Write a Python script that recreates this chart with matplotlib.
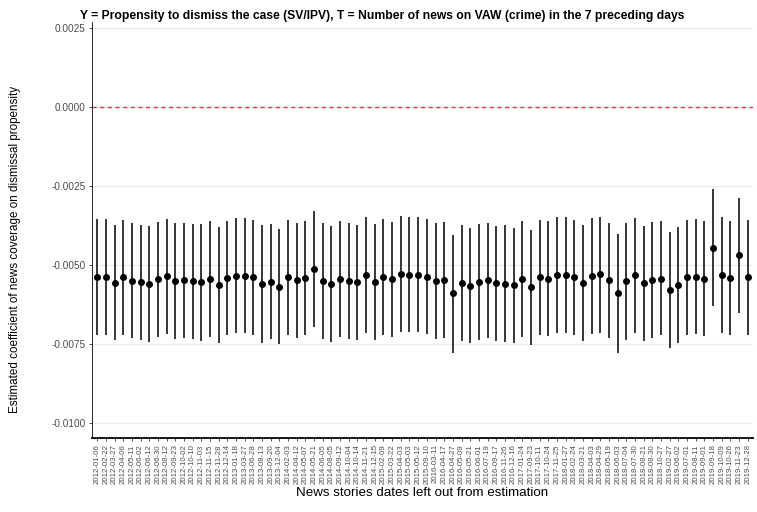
import numpy as np
import matplotlib
matplotlib.use("Agg")
import matplotlib.pyplot as plt

dates = [
    "2012-01-06", "2012-02-22", "2012-03-27", "2012-04-06", "2012-05-11", "2012-06-02",
    "2012-06-12", "2012-06-30", "2012-08-12", "2012-09-23", "2012-10-02", "2012-10-10",
    "2012-11-03", "2012-11-15", "2012-11-28", "2012-12-14", "2013-01-18", "2013-03-27",
    "2013-06-28", "2013-08-13", "2013-09-20", "2013-12-04", "2014-02-03", "2014-04-12",
    "2014-05-07", "2014-05-21", "2014-06-05", "2014-08-05", "2014-09-12", "2014-10-04",
    "2014-10-14", "2014-11-21", "2014-12-15", "2015-02-09", "2015-03-22", "2015-04-03",
    "2015-05-03", "2015-05-12", "2015-09-10", "2016-03-11", "2016-04-17", "2016-04-27",
    "2016-05-09", "2016-05-21", "2016-06-01", "2016-07-19", "2016-09-17", "2016-11-26",
    "2016-12-16", "2017-01-24", "2017-09-23", "2017-10-11", "2017-10-24", "2017-11-25",
    "2018-01-27", "2018-02-24", "2018-03-21", "2018-04-03", "2018-04-29", "2018-05-19",
    "2018-06-03", "2018-07-04", "2018-07-30", "2018-08-21", "2018-08-30", "2018-10-27",
    "2019-02-27", "2019-06-02", "2019-07-01", "2019-08-11", "2019-09-01", "2019-09-18",
    "2019-10-09", "2019-10-26", "2019-11-23", "2019-12-28",
]

estimate = [
    -0.00538, -0.00538, -0.00556, -0.00539, -0.00551, -0.00555, -0.00560, -0.00545,
    -0.00535, -0.00551, -0.00549, -0.00552, -0.00555, -0.00544, -0.00563, -0.00541,
    -0.00534, -0.00534, -0.00539, -0.00560, -0.00554, -0.00569, -0.00539, -0.00549,
    -0.00541, -0.00513, -0.00550, -0.00561, -0.00545, -0.00550, -0.00555, -0.00531,
    -0.00553, -0.00537, -0.00545, -0.00529, -0.00531, -0.00531, -0.00537, -0.00551,
    -0.00547, -0.00590, -0.00557, -0.00565, -0.00553, -0.00549, -0.00558, -0.00560,
    -0.00564, -0.00544, -0.00570, -0.00539, -0.00543, -0.00532, -0.00532, -0.00539,
    -0.00556, -0.00534, -0.00530, -0.00549, -0.00590, -0.00551, -0.00532, -0.00557,
    -0.00547, -0.00543, -0.00579, -0.00562, -0.00539, -0.00537, -0.00543, -0.00445,
    -0.00532, -0.00541, -0.00469, -0.00539,
]

ci_high = [
    -0.00355, -0.00356, -0.00374, -0.00359, -0.00368, -0.00373, -0.00377, -0.00363,
    -0.00353, -0.00368, -0.00366, -0.00370, -0.00371, -0.00362, -0.00379, -0.00360,
    -0.00352, -0.00352, -0.00357, -0.00372, -0.00371, -0.00387, -0.00359, -0.00367,
    -0.00361, -0.00329, -0.00368, -0.00378, -0.00362, -0.00368, -0.00373, -0.00349,
    -0.00371, -0.00355, -0.00363, -0.00346, -0.00349, -0.00349, -0.00355, -0.00368,
    -0.00364, -0.00405, -0.00374, -0.00384, -0.00370, -0.00367, -0.00376, -0.00374,
    -0.00382, -0.00362, -0.00388, -0.00359, -0.00362, -0.00349, -0.00349, -0.00357,
    -0.00374, -0.00352, -0.00348, -0.00368, -0.00402, -0.00366, -0.00350, -0.00376,
    -0.00365, -0.00361, -0.00397, -0.00379, -0.00357, -0.00356, -0.00362, -0.00261,
    -0.00349, -0.00360, -0.00287, -0.00359,
]

ci_low = [
    -0.00720, -0.00721, -0.00738, -0.00720, -0.00731, -0.00736, -0.00743, -0.00727,
    -0.00717, -0.00733, -0.00732, -0.00735, -0.00739, -0.00727, -0.00746, -0.00723,
    -0.00716, -0.00716, -0.00720, -0.00748, -0.00735, -0.00751, -0.00720, -0.00731,
    -0.00723, -0.00697, -0.00733, -0.00744, -0.00729, -0.00733, -0.00737, -0.00714,
    -0.00736, -0.00720, -0.00729, -0.00711, -0.00713, -0.00713, -0.00719, -0.00734,
    -0.00730, -0.00777, -0.00741, -0.00748, -0.00736, -0.00732, -0.00741, -0.00745,
    -0.00747, -0.00727, -0.00753, -0.00721, -0.00726, -0.00715, -0.00715, -0.00721,
    -0.00739, -0.00717, -0.00714, -0.00732, -0.00780, -0.00737, -0.00715, -0.00739,
    -0.00730, -0.00723, -0.00762, -0.00746, -0.00720, -0.00719, -0.00726, -0.00631,
    -0.00715, -0.00723, -0.00652, -0.00721,
]

y_ticks = [0.0025, 0.0, -0.0025, -0.0050, -0.0075, -0.0100]

plt.rcParams['font.family'] = ['Liberation Sans', 'DejaVu Sans']

fig = plt.figure(figsize=(7.57, 5.12), dpi=100)
ax = fig.add_axes([92 / 757, 1 - 438 / 512, 661 / 757, 416 / 512])

x = np.arange(len(dates))
est = np.array(estimate)
lo = np.array(ci_low)
hi = np.array(ci_high)

for yt in y_ticks:
    ax.axhline(yt, color="#ebebeb", lw=0.8, zorder=0)
ax.axhline(0, color="#e8383b", lw=1.0, ls=(0, (3, 2.5)), zorder=1)

ax.vlines(x, lo, hi, color="black", lw=1.1, zorder=2)
ax.scatter(x, est, s=16, color="black", zorder=3)

ax.set_xlim(-0.6, len(dates) - 0.4)
ax.set_ylim(-0.010475, 0.00269)
ax.set_yticks(y_ticks)
ax.set_yticklabels(["%.4f" % v for v in y_ticks], fontsize=7.2, color="#4d4d4d")
ax.set_xticks(x)
ax.set_xticklabels(dates, rotation=90, fontsize=5.6, color="#4d4d4d")
ax.tick_params(axis="both", length=2.5, width=0.6, color="#333333", pad=2)

for side in ["top", "right"]:
    ax.spines[side].set_visible(False)
ax.spines["bottom"].set_linewidth(1.3)
ax.spines["left"].set_linewidth(0.6)

ax.set_xlabel("News stories dates left out from estimation", fontsize=9.6, labelpad=2)
fig.text(15 / 757, 1 - 249 / 512,
         "Estimated coefficient of news coverage on dismissal propensity",
         fontsize=8.4, rotation=90, va="center", ha="center")
fig.text(80 / 757, 1 - 16 / 512,
         "Y = Propensity to dismiss the case (SV/IPV), T = Number of news on VAW (crime) in the 7 preceding days",
         fontsize=8.7, fontweight="bold", va="center", ha="left")

fig.savefig("out.png", dpi=100)
